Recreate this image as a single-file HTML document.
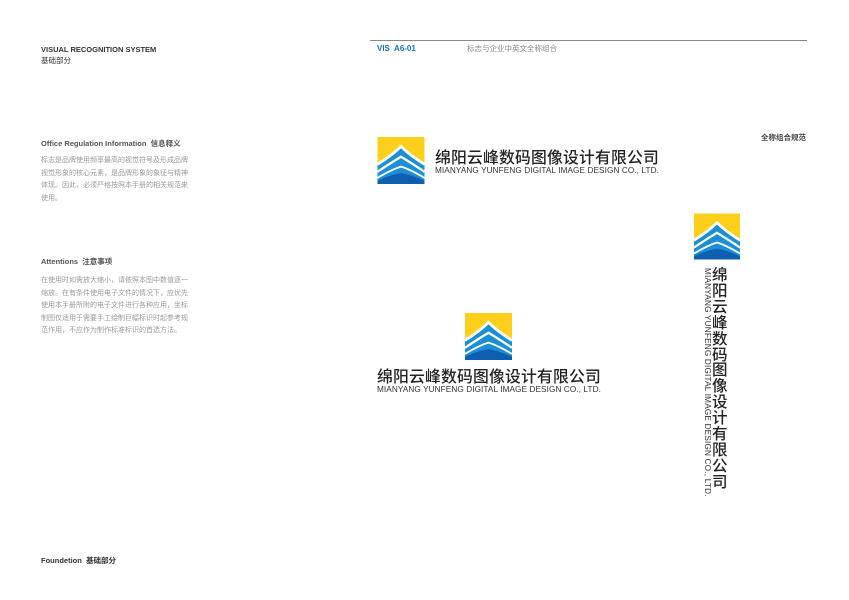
<!DOCTYPE html>
<html><head><meta charset="utf-8"><style>
html,body{margin:0;padding:0;background:#fff;}
body{width:849px;height:600px;position:relative;overflow:hidden;font-family:"Liberation Sans","Noto Sans CJK SC",sans-serif;}
.a{position:absolute;white-space:nowrap;line-height:1;}
.h{font-size:7.5px;font-weight:bold;color:#333;}
.g{font-size:7px;color:#999;line-height:12.5px;white-space:normal;width:150px;}
.cn{color:#222;font-weight:500;}
.en{color:#333;}
</style></head><body>
<svg width="0" height="0" style="position:absolute">
<defs>
<symbol id="logo" viewBox="0 0 100 100">
<rect width="100" height="100" fill="#fcd01a"/>
<path d="M0,60 Q30,42 50,22 Q70,42 100,60 V100 H0 Z" fill="#1b8fd6"/>
<path d="M0,58 Q30,40 50,20 Q70,40 100,58" fill="none" stroke="#fff" stroke-width="6"/>
<path d="M0,74 Q30,54 50,42 Q70,54 100,74" fill="none" stroke="#fff" stroke-width="5"/>
<path d="M0,87 Q30,69 50,63 Q70,69 100,87" fill="none" stroke="#fff" stroke-width="4"/>
<path d="M0,93 Q30,79 50,77 Q70,79 100,93 V100 H0 Z" fill="#0f5fb0"/>
</symbol>
</defs></svg>

<div class="a h" style="left:41px;top:46px;">VISUAL RECOGNITION SYSTEM</div>
<div class="a" style="left:41px;top:57px;font-size:7.5px;color:#333;">基础部分</div>

<div class="a h" style="left:41px;top:140px;color:#555;">Office Regulation Information&nbsp; 信息释义</div>
<div class="a g" style="left:41px;top:155px;">标志是品牌使用频率最高的视觉符号及形成品牌视觉形象的核心元素，是品牌形象的象征与精神体现。因此，必须严格按照本手册的相关规范来使用。</div>

<div class="a h" style="left:41px;top:258px;color:#555;">Attentions&nbsp; 注意事项</div>
<div class="a g" style="left:41px;top:275px;">在使用时如需放大缩小，请依照本图中数值逐一缩放。在有条件使用电子文件的情况下，应优先使用本手册所附的电子文件进行各种应用，坐标制图仅适用于需要手工绘制巨幅标识时起参考规范作用，不应作为制作标准标识的首选方法。</div>

<div class="a h" style="left:41px;top:557px;">Foundetion&nbsp; 基础部分</div>

<div class="a" style="left:370px;top:40px;width:437px;height:1px;background:#888;"></div>
<div class="a" style="left:377px;top:45px;font-size:8px;font-weight:bold;color:#1a6fc0;">VIS&nbsp; A6-01</div>
<div class="a" style="left:467px;top:45px;font-size:7.5px;color:#888;">标志与企业中英文全称组合</div>
<div class="a h" style="left:761px;top:134px;color:#444;">全称组合规范</div>

<svg class="a" style="left:377px;top:137px" width="48" height="47"><use href="#logo"/></svg>
<div class="a cn" style="left:435px;top:151px;font-size:15.8px;letter-spacing:0.2px;">绵阳云峰数码图像设计有限公司</div>
<div class="a en" style="left:435px;top:167px;font-size:8.2px;letter-spacing:0.1px;">MIANYANG YUNFENG DIGITAL IMAGE DESIGN CO., LTD.</div>

<svg class="a" style="left:465px;top:313px" width="47" height="47"><use href="#logo"/></svg>
<div class="a cn" style="left:377px;top:370px;font-size:15.8px;letter-spacing:0.2px;">绵阳云峰数码图像设计有限公司</div>
<div class="a en" style="left:377px;top:386px;font-size:8.2px;letter-spacing:0.1px;">MIANYANG YUNFENG DIGITAL IMAGE DESIGN CO., LTD.</div>

<svg class="a" style="left:694px;top:213px" width="46" height="47"><use href="#logo"/></svg>
<div class="a cn" style="left:712px;top:268px;font-size:15.5px;line-height:15.9px;width:17px;white-space:normal;">绵阳云峰数码图像设计有限公司</div>
<div class="a en" style="left:711px;top:268px;font-size:8.2px;letter-spacing:0.2px;transform-origin:0 0;transform:rotate(90deg);">MIANYANG YUNFENG DIGITAL IMAGE DESIGN CO., LTD.</div>
</body></html>
